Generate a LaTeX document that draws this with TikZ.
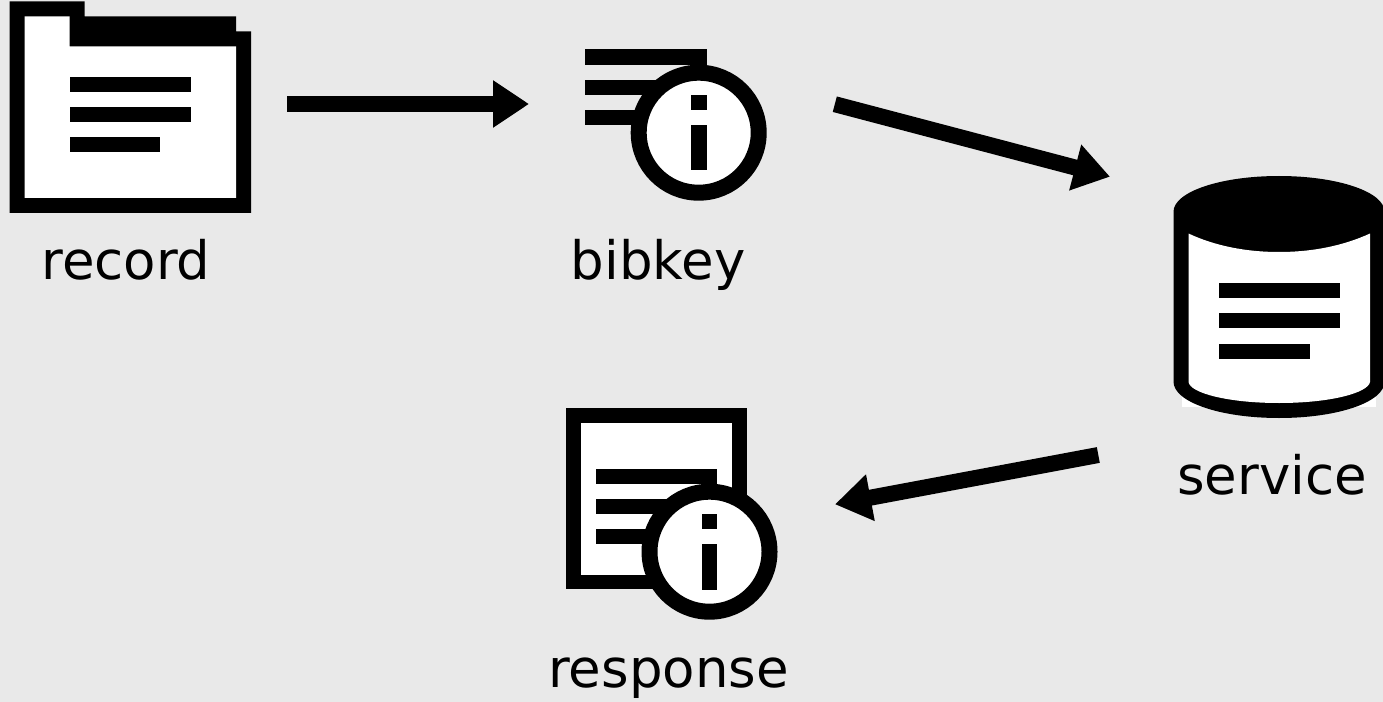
\documentclass[tikz,border=0pt]{standalone}
\usepackage{fontspec}
\setmainfont{DejaVu Sans}
\usetikzlibrary{arrows.meta}
\definecolor{bgc}{HTML}{E9E9E9}
\tikzset{
  x=0.75pt,y=-0.75pt,
  ink/.style={fill=black,draw=none},
  paper/.style={fill=white,draw=none},
  label text/.style={font=\fontsize{39.7}{46}\selectfont,text=black,inner sep=0pt,anchor=base},
  flow/.style={draw=black,line width=12pt,-{Triangle[length=27pt,width=33.75pt]},shorten >=0pt},
  ring/.style={fill=white,draw=black,line width=12pt},
}
\begin{document}
\begin{tikzpicture}
\useasboundingbox (0,0) rectangle (1383,702);
\fill[bgc] (0,0) rectangle (1383,702);
% record folder
\fill[ink] (9.5,1.5) -- (84.5,1.5) -- (84.5,16.5) -- (236,16.5) -- (236,31.5) -- (251,31.5) -- (251,213) -- (9.5,213) -- cycle;
\fill[paper] (24.5,16.5) -- (69.5,16.5) -- (69.5,46.5) -- (236,46.5) -- (236,198) -- (24.5,198) -- cycle;
\fill[ink] (69.5,77) rectangle (190.5,92);
\fill[ink] (69.5,107) rectangle (190.5,122.3);
\fill[ink] (69.5,137.3) rectangle (160.3,152.5);
% bibkey
\fill[ink] (585,49.5) rectangle (706.5,65);
\fill[ink] (585,80) rectangle (706.5,95);
\fill[ink] (585,110) rectangle (706.5,125.5);
\draw[ring] (698.7,132.7) circle[radius=60];
\fill[ink] (691,95) rectangle (706.5,110.5);
\fill[ink] (691,125.5) rectangle (706.5,170.5);
% service cylinder
\fill[paper] (1181.7,225) rectangle (1376,406.7);
\fill[ink] (1173.5,211.7) .. controls (1173.5,192) and (1220,176) .. (1279,176) .. controls (1338,176) and (1384.5,192) .. (1384.5,211.7) -- (1384.5,381.7) .. controls (1384.5,402) and (1338,418) .. (1279,418) .. controls (1220,418) and (1173.5,402) .. (1173.5,381.7) -- cycle;
\fill[paper] (1188.5,233.5) .. controls (1214,245.5) and (1245,252) .. (1279,252) .. controls (1313,252) and (1344,245.5) .. (1370,233.5) -- (1370,382) .. controls (1368,393) and (1330,403) .. (1279,403) .. controls (1228,403) and (1190,393) .. (1188.5,382) -- cycle;
\fill[ink] (1219,282.5) rectangle (1340,297.5);
\fill[ink] (1219,313) rectangle (1340,328);
\fill[ink] (1219,343.5) rectangle (1309.7,358.5);
% response
\fill[ink] (565.7,408.3) rectangle (747.3,589.3);
\fill[paper] (581,423) rectangle (732,574.5);
\fill[ink] (596,468.5) rectangle (716.7,484);
\fill[ink] (596,499) rectangle (716.7,514);
\fill[ink] (596,529) rectangle (716.7,544);
\draw[ring] (709.5,551.7) circle[radius=60];
\fill[ink] (702,514) rectangle (717,529);
\fill[ink] (702,544) rectangle (717,589.5);
% labels
\node[label text] (record) at (126,279) {record};
\node[label text] (bibkey) at (658,279) {bibkey};
\node[label text] (service) at (1272,494) {service};
\node[label text] (response) at (668.5,687) {response};
% connectors
\coordinate (a1) at (287,104); \coordinate (a2) at (529,104);
\coordinate (b1) at (834.8,104.2); \coordinate (b2) at (1110,176.7);
\coordinate (c1) at (1098.3,455); \coordinate (c2) at (835,504.3);
\draw[flow] (a1) -- (a2);
\draw[flow] (b1) -- (b2);
\draw[flow] (c1) -- (c2);
\end{tikzpicture}
\end{document}
